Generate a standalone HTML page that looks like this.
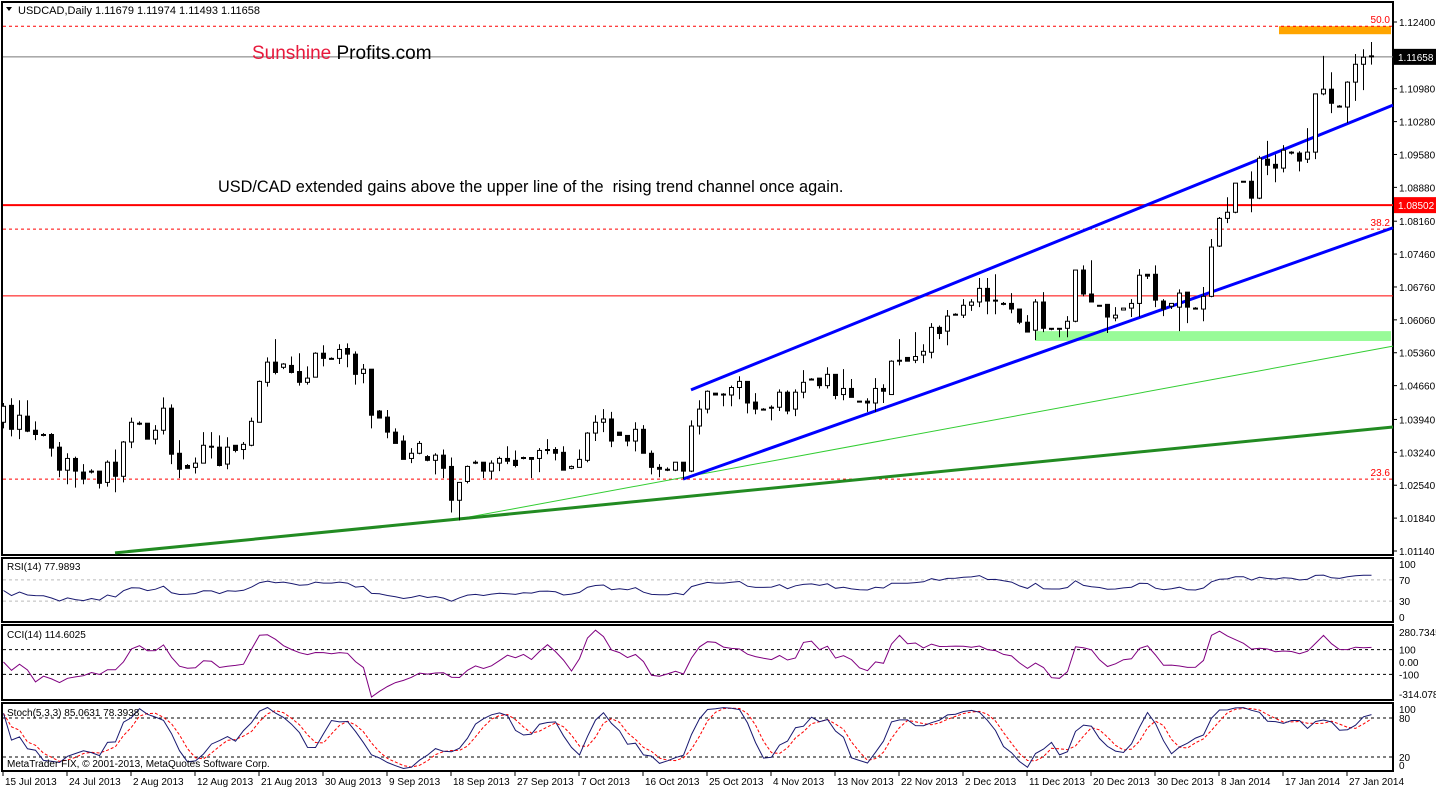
<!DOCTYPE html>
<html><head><meta charset="utf-8">
<style>
html,body{margin:0;padding:0;background:#fff;}
svg{display:block;font-family:"Liberation Sans",Arial,sans-serif;}
</style></head>
<body>
<svg id="chart" width="1436" height="789" viewBox="0 0 1436 789" xmlns="http://www.w3.org/2000/svg">
<rect x="0" y="0" width="1436" height="789" fill="#fff"/>
<g id="frames" fill="none" stroke="#000" stroke-width="2">
<rect x="2" y="2" width="1391" height="553"/>
<rect x="2" y="558" width="1391" height="64"/>
<rect x="2" y="625" width="1391" height="75"/>
<rect x="2" y="703" width="1391" height="68"/>
</g>
<g id="annot"></g>
<g id="candles"></g>
<g id="ind"></g>
<g id="axes"></g>
<text x="18" y="14" font-size="11" fill="#000">USDCAD,Daily  1.11679 1.11974 1.11493 1.11658</text>
<path d="M6 7 L12 7 L9 11 Z" fill="#000"/>
<text x="252" y="59" font-size="19"><tspan fill="#e8193c">Sunshine</tspan><tspan fill="#000"> Profits.com</tspan></text>
<text x="218" y="192" font-size="16.3" fill="#000" style="white-space:pre" xml:space="preserve">USD/CAD extended gains above the upper line of the  rising trend channel once again.</text>
<text x="7" y="570" font-size="10" fill="#000">RSI(14) 77.9893</text>
<text x="7" y="638" font-size="10" fill="#000">CCI(14) 114.6025</text>
<text x="7" y="716" font-size="10" fill="#000">Stoch(5,3,3) 85.0631 78.3938</text>
<text x="7" y="767" font-size="10" fill="#000">MetaTrader FIX, © 2001-2013, MetaQuotes Software Corp.</text>
</svg>
<script>
const openP=[1.0388,1.0424,1.0373,1.0401,1.0371,1.0362,1.0362,1.0335,1.0286,1.0311,1.0282,1.0284,1.0284,1.0260,1.0303,1.0273,1.0346,1.0386,1.0386,1.0352,1.0371,1.0418,1.0322,1.0296,1.0292,1.0301,1.0337,1.0335,1.0299,1.0339,1.0330,1.0339,1.0388,1.0473,1.0516,1.0505,1.0509,1.0496,1.0473,1.0484,1.0535,1.0524,1.0524,1.0545,1.0533,1.0492,1.0501,1.0412,1.0399,1.0367,1.0348,1.0311,1.0322,1.0315,1.0307,1.0318,1.0294,1.0222,1.0262,1.0303,1.0303,1.0284,1.0301,1.0311,1.0307,1.0313,1.0313,1.0311,1.0330,1.0330,1.0324,1.0290,1.0292,1.0307,1.0365,1.0388,1.0395,1.0367,1.0360,1.0348,1.0373,1.0322,1.0292,1.0288,1.0286,1.0303,1.0284,1.0380,1.0416,1.0450,1.0448,1.0446,1.0462,1.0475,1.0431,1.0416,1.0420,1.0420,1.0452,1.0416,1.0452,1.0480,1.0482,1.0466,1.0490,1.0447,1.0460,1.0433,1.0433,1.0429,1.0460,1.0447,1.0520,1.0526,1.0520,1.0531,1.0537,1.0590,1.0582,1.0618,1.0616,1.0637,1.0644,1.0673,1.0648,1.0641,1.0641,1.0629,1.0601,1.0584,1.0644,1.0588,1.0588,1.0588,1.0603,1.0712,1.0661,1.0637,1.0639,1.0610,1.0627,1.0631,1.0641,1.0703,1.0703,1.0646,1.0635,1.0633,1.0665,1.0631,1.0629,1.0656,1.0763,1.0822,1.0835,1.0901,1.0901,1.0865,1.0948,1.0937,1.0929,1.0963,1.0961,1.0948,1.0963,1.1087,1.1097,1.1061,1.1059,1.1112,1.1150,1.11679];
const highP=[1.0429,1.0439,1.0435,1.0435,1.0390,1.0365,1.0365,1.0346,1.0322,1.0315,1.0299,1.0288,1.0284,1.0307,1.0330,1.0348,1.0398,1.0390,1.0386,1.0382,1.0441,1.0426,1.0350,1.0299,1.0313,1.0367,1.0367,1.0360,1.0356,1.0339,1.0346,1.0398,1.0477,1.0526,1.0565,1.0514,1.0528,1.0535,1.0507,1.0537,1.0552,1.0526,1.0554,1.0556,1.0539,1.0512,1.0501,1.0414,1.0414,1.0375,1.0360,1.0333,1.0348,1.0318,1.0322,1.0330,1.0313,1.0260,1.0296,1.0307,1.0303,1.0307,1.0315,1.0337,1.0328,1.0315,1.0313,1.0333,1.0352,1.0335,1.0337,1.0296,1.0330,1.0367,1.0403,1.0416,1.0410,1.0367,1.0360,1.0388,1.0382,1.0328,1.0299,1.0292,1.0303,1.0303,1.0392,1.0435,1.0456,1.0450,1.0450,1.0466,1.0486,1.0475,1.0450,1.0418,1.0424,1.0458,1.0456,1.0458,1.0499,1.0482,1.0482,1.0505,1.0490,1.0501,1.0480,1.0433,1.0439,1.0482,1.0469,1.0520,1.0565,1.0526,1.0580,1.0554,1.0599,1.0594,1.0627,1.0620,1.0650,1.0650,1.0695,1.0695,1.0703,1.0644,1.0663,1.0629,1.0616,1.0650,1.0665,1.0588,1.0588,1.0614,1.0712,1.0722,1.0733,1.0637,1.0639,1.0633,1.0631,1.0650,1.0714,1.0703,1.0722,1.0650,1.0641,1.0671,1.0665,1.0633,1.0676,1.0778,1.0825,1.0867,1.0897,1.0901,1.0922,1.0955,1.0987,1.0958,1.0978,1.0965,1.0965,1.1014,1.1087,1.1168,1.1133,1.1063,1.1114,1.1172,1.1182,1.11974];
const lowP=[1.0375,1.0358,1.0352,1.0367,1.0350,1.0358,1.0315,1.0271,1.0256,1.0249,1.0256,1.0279,1.0247,1.0251,1.0239,1.0260,1.0333,1.0382,1.0352,1.0341,1.0362,1.0299,1.0269,1.0290,1.0279,1.0301,1.0311,1.0294,1.0288,1.0324,1.0309,1.0337,1.0388,1.0464,1.0490,1.0501,1.0492,1.0466,1.0468,1.0484,1.0507,1.0522,1.0512,1.0505,1.0468,1.0471,1.0375,1.0397,1.0354,1.0343,1.0309,1.0301,1.0320,1.0305,1.0277,1.0269,1.0196,1.0179,1.0258,1.0299,1.0269,1.0267,1.0284,1.0299,1.0292,1.0309,1.0269,1.0282,1.0320,1.0307,1.0288,1.0288,1.0292,1.0303,1.0348,1.0367,1.0335,1.0360,1.0337,1.0326,1.0322,1.0277,1.0271,1.0284,1.0284,1.0267,1.0282,1.0362,1.0407,1.0446,1.0422,1.0422,1.0437,1.0407,1.0405,1.0414,1.0392,1.0412,1.0405,1.0401,1.0439,1.0477,1.0460,1.0460,1.0437,1.0435,1.0441,1.0433,1.0410,1.0410,1.0429,1.0447,1.0509,1.0518,1.0514,1.0514,1.0524,1.0565,1.0552,1.0616,1.0610,1.0625,1.0633,1.0618,1.0618,1.0637,1.0620,1.0597,1.0582,1.0563,1.0580,1.0584,1.0569,1.0569,1.0601,1.0656,1.0644,1.0635,1.0578,1.0603,1.0627,1.0612,1.0612,1.0693,1.0633,1.0614,1.0629,1.0582,1.0599,1.0629,1.0603,1.0654,1.0761,1.0812,1.0833,1.0899,1.0835,1.0863,1.0914,1.0899,1.0920,1.0958,1.0922,1.0940,1.0948,1.1084,1.1046,1.1061,1.1025,1.1072,1.1095,1.11493];
const closeP=[1.0422,1.0373,1.0403,1.0369,1.0362,1.0360,1.0333,1.0286,1.0311,1.0284,1.0267,1.0284,1.0258,1.0303,1.0273,1.0346,1.0388,1.0386,1.0352,1.0371,1.0418,1.0320,1.0288,1.0290,1.0301,1.0339,1.0337,1.0296,1.0335,1.0328,1.0341,1.0390,1.0475,1.0516,1.0494,1.0512,1.0494,1.0473,1.0482,1.0535,1.0524,1.0524,1.0543,1.0533,1.0490,1.0501,1.0403,1.0397,1.0367,1.0343,1.0309,1.0322,1.0343,1.0307,1.0318,1.0290,1.0222,1.0260,1.0294,1.0303,1.0284,1.0301,1.0311,1.0305,1.0296,1.0313,1.0309,1.0328,1.0330,1.0322,1.0286,1.0294,1.0309,1.0365,1.0388,1.0395,1.0348,1.0360,1.0348,1.0373,1.0322,1.0292,1.0288,1.0288,1.0303,1.0284,1.0380,1.0416,1.0454,1.0446,1.0446,1.0462,1.0475,1.0429,1.0416,1.0416,1.0420,1.0452,1.0412,1.0452,1.0473,1.0480,1.0466,1.0490,1.0445,1.0460,1.0441,1.0433,1.0429,1.0460,1.0454,1.0518,1.0518,1.0518,1.0528,1.0539,1.0590,1.0577,1.0614,1.0618,1.0637,1.0644,1.0673,1.0646,1.0648,1.0639,1.0629,1.0601,1.0580,1.0644,1.0588,1.0586,1.0586,1.0603,1.0712,1.0661,1.0644,1.0635,1.0612,1.0616,1.0631,1.0641,1.0701,1.0699,1.0648,1.0629,1.0641,1.0663,1.0633,1.0631,1.0656,1.0761,1.0822,1.0835,1.0897,1.0901,1.0865,1.0950,1.0935,1.0929,1.0967,1.0963,1.0944,1.0963,1.1087,1.1097,1.1067,1.1061,1.1112,1.1150,1.1165,1.11658];
const priceTicks=[1.12400,1.10980,1.10280,1.09580,1.08880,1.08160,1.07460,1.06760,1.06060,1.05360,1.04660,1.03940,1.03240,1.02540,1.01840,1.01140];
const dateLabels=["15 Jul 2013","24 Jul 2013","2 Aug 2013","12 Aug 2013","21 Aug 2013","30 Aug 2013","9 Sep 2013","18 Sep 2013","27 Sep 2013","7 Oct 2013","16 Oct 2013","25 Oct 2013","4 Nov 2013","13 Nov 2013","22 Nov 2013","2 Dec 2013","11 Dec 2013","20 Dec 2013","30 Dec 2013","8 Jan 2014","17 Jan 2014","27 Jan 2014"];
const fibLevels=[1.1231,1.0799,1.0267];
const fibNames=["50.0","38.2","23.6"];
const resistLevels=[1.08502,1.0657];
const upperChannel=[[86,1.0457],[173.75,1.1063]];
const lowerChannel=[[85,1.0267],[173.75,1.0802]];
const thinSupport=[[56.9,1.0182],[173.75,1.0550]];
const thickSupport=[[14,1.0110],[173.75,1.0378]];
const orangeZone=[159.5,173.5,1.1231,1.1214];
const greenZone=[129,173.5,1.0582,1.0561];
const lastPrice=1.11658;
const rsiSeedAvg=0.0008;

const NS="http://www.w3.org/2000/svg";
const X0=3,STEP=8,RIGHT=1393;
function xb(i){return X0+STEP*i;}
function yp(p){return 22+(1.124-p)*4698;}
function yRsi(v){return 617-v*0.53;}
function yCci(v){return 662-v*0.124;}
function ySto(v){return 770-v*0.65;}
function mk(tag,attrs,parent){const e=document.createElementNS(NS,tag);for(const k in attrs)e.setAttribute(k,attrs[k]);parent.appendChild(e);return e;}
const annot=document.getElementById('annot');
const cg=document.getElementById('candles');
const ind=document.getElementById('ind');
const axes=document.getElementById('axes');

let r=mk('rect',{x:xb(orangeZone[0]),y:yp(orangeZone[2]),width:xb(orangeZone[1])-xb(orangeZone[0]),height:yp(orangeZone[3])-yp(orangeZone[2]),fill:'#ffa500'},annot);


r=mk('rect',{x:xb(greenZone[0]),y:yp(greenZone[2]),width:xb(greenZone[1])-xb(greenZone[0]),height:yp(greenZone[3])-yp(greenZone[2]),fill:'#98fb98'},annot);


fibLevels.forEach((p,k)=>{
  const l=mk('line',{x1:3,x2:RIGHT,y1:yp(p),y2:yp(p),stroke:'#f00','stroke-dasharray':'3,3','stroke-width':1},annot);
  
  
  const t=mk('text',{x:1390,y:yp(p)-3,'font-size':10,fill:'#f00','text-anchor':'end'},annot);t.textContent=fibNames[k];
  
  
});
resistLevels.forEach((p,k)=>{
  const l=mk('line',{x1:3,x2:RIGHT,y1:yp(p),y2:yp(p),stroke:'#f00','stroke-width':k==0?2:1},annot);
  
  
});
let gl=mk('line',{x1:3,x2:RIGHT,y1:yp(lastPrice),y2:yp(lastPrice),stroke:'#777','stroke-width':1},annot);


function trend(seg,color,w,name){
  const l=mk('line',{x1:xb(seg[0][0]),y1:yp(seg[0][1]),x2:xb(seg[1][0]),y2:yp(seg[1][1]),stroke:color,'stroke-width':w},annot);
  
  
}
trend(thinSupport,'#32cd32',1,'thin-support-line');
trend(thickSupport,'#228b22',3,'thick-support-line');
trend(upperChannel,'#0000ff',3,'upper-channel-line');
trend(lowerChannel,'#0000ff',3,'lower-channel-line');

for(let i=0;i<closeP.length;i++){
  const x=xb(i),o=openP[i],c=closeP[i];
  const w=mk('line',{x1:x+0.5,x2:x+0.5,y1:yp(highP[i]),y2:yp(lowP[i]),stroke:'#000','stroke-width':1},cg);
  
  
  const top=Math.min(yp(o),yp(c)),h=Math.max(1,Math.abs(yp(o)-yp(c)));
  const b=mk('rect',{x:x-1.5,y:top,width:4,height:h,fill:c>=o?'#fff':'#000',stroke:'#000','stroke-width':1},cg);
  
  
}

const N=closeP.length;
const rsi=[],cci=[],stK=[],stD=[];
let ag=rsiSeedAvg,al=rsiSeedAvg;
for(let i=0;i<N;i++){
  if(i>0){const d=closeP[i]-closeP[i-1];
    ag=(ag*13+Math.max(d,0))/14;al=(al*13+Math.max(-d,0))/14;}
  rsi.push(al==0?100:100-100/(1+ag/al));
}
const tp=closeP.map((c,i)=>(c+highP[i]+lowP[i])/3);
for(let i=0;i<N;i++){
  const s=Math.max(0,i-13),w=tp.slice(s,i+1);
  const m=w.reduce((a,b)=>a+b,0)/w.length;
  const md=w.reduce((a,b)=>a+Math.abs(b-m),0)/w.length;
  cci.push(md==0?0:(tp[i]-m)/(0.015*md));
}
const raw=[];
for(let i=0;i<N;i++){
  const s=Math.max(0,i-4);
  const hh=Math.max(...highP.slice(s,i+1)),ll=Math.min(...lowP.slice(s,i+1));
  raw.push([closeP[i]-ll,hh-ll]);
}
for(let i=0;i<N;i++){
  const s=Math.max(0,i-2);let a=0,b=0;
  for(let j=s;j<=i;j++){a+=raw[j][0];b+=raw[j][1];}
  stK.push(b==0?50:100*a/b);
}
for(let i=0;i<N;i++){const s=Math.max(0,i-2),w=stK.slice(s,i+1);stD.push(w.reduce((a,b)=>a+b,0)/w.length);}
function poly(arr,fy,color,name,dash,w){
  const pts=arr.map((v,i)=>(xb(i)+0.5)+','+fy(v).toFixed(1)).join(' ');
  const p=mk('polyline',{points:pts,fill:'none',stroke:color,'stroke-width':w||1},ind);
  if(dash)p.setAttribute('stroke-dasharray',dash);
  
  
}
function hl(y,color,name){
  const l=mk('line',{x1:3,x2:RIGHT,y1:y,y2:y,stroke:color,'stroke-dasharray':'3,3','stroke-width':1},ind);
  
  
}
hl(yRsi(70),'#bbb','rsi-70-line');hl(yRsi(30),'#bbb','rsi-30-line');
hl(yCci(100),'#000','cci-100-line');hl(yCci(-100),'#000','cci-minus100-line');
hl(ySto(80),'#000','stoch-80-line');hl(ySto(20),'#000','stoch-20-line');
poly(rsi,yRsi,'#191970','rsi-line');
poly(cci,v=>yCci(Math.max(-314,Math.min(280,v))),'#800080','cci-line');
poly(stD,ySto,'#f00','stoch-signal-line','3,2');
poly(stK,ySto,'#191970','stoch-main-line');

function lab(x,y,txt,name,fill,fs){const t=mk('text',{x:x,y:y,'font-size':fs||10,fill:fill||'#000'},axes);t.textContent=txt;
  
  return t;}
priceTicks.forEach(p=>{const y=yp(p);
  mk('line',{x1:RIGHT,x2:RIGHT+4,y1:y,y2:y,stroke:'#000'},axes);
  lab(1399,y+4,p.toFixed(5),'price-tick-label');});
function box(p,fill,name){const y=yp(p);
  const b=mk('rect',{x:1394,y:y-8,width:42,height:16,fill:fill},axes);
  
  
  lab(1398,y+4,p.toFixed(5),name+'-text','#fff');}
box(lastPrice,'#000','last-price-box');
box(resistLevels[0],'#f00','level-price-box');
[[100,'100'],[70,'70'],[30,'30'],[0,'0']].forEach(a=>lab(1399,yRsi(a[0])+4,a[1],'rsi-tick-label'));
[[280.7345,'280.7345'],[100,'100'],[0,'0.00'],[-100,'-100'],[-314.0786,'-314.0786']].forEach(a=>lab(1399,Math.min(698,Math.max(636,yCci(a[0])+4)),a[1],'cci-tick-label'));
[[100,'100'],[80,'80'],[20,'20'],[0,'0']].forEach(a=>lab(1399,Math.min(769,Math.max(713,ySto(a[0])+4)),a[1],'stoch-tick-label'));
dateLabels.forEach((d,k)=>{const x=xb(k*8);
  mk('line',{x1:x,x2:x,y1:771,y2:776,stroke:'#000'},axes);
  lab(x+2,785,d,'date-label');});
</script>
</body></html>
